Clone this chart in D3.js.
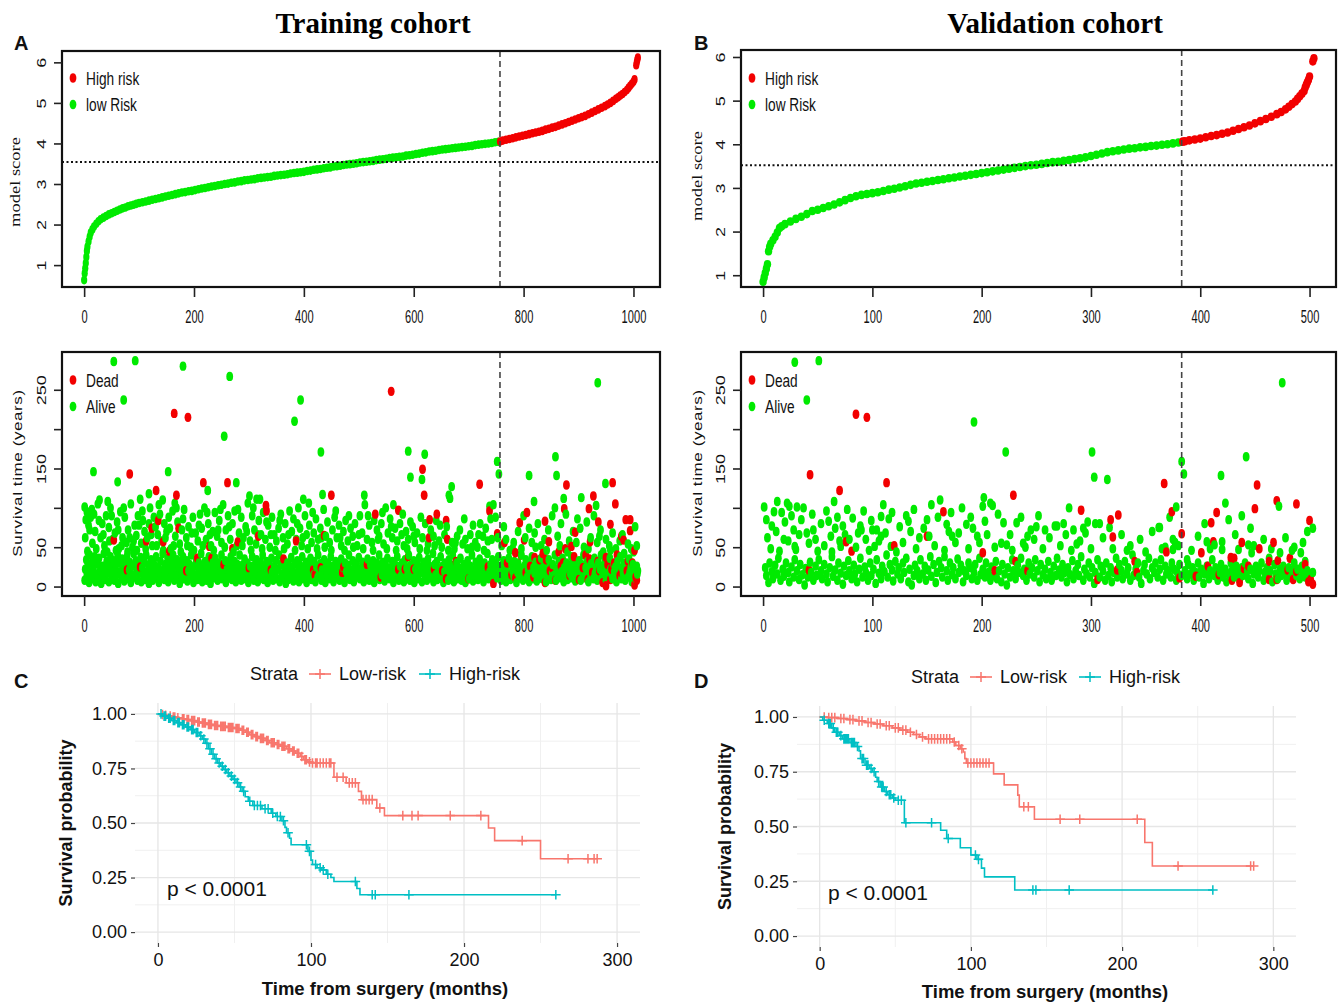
<!DOCTYPE html>
<html>
<head>
<meta charset="utf-8">
<script src="https://cdn.jsdelivr.net/npm/d3@7/dist/d3.min.js"></script>
<style>
  body { margin: 0; background: #fff; }
  svg { display: block; }
</style>
</head>
<body>
<svg id="fig" width="1343" height="1003"></svg>
<script>
// ================= data =================

// sorted model score by patient rank: [rank, score]
const scoreTrain = [[0,0.63],[1,0.8],[2,0.92],[3,1.05],[4,1.2],[5,1.35],[6,1.45],[8,1.58],[10,1.7],[12,1.8],[15,1.88],[18,1.95],[22,2.02],[26,2.08],[30,2.13],[35,2.17],[40,2.21],[45,2.25],[50,2.28],[55,2.31],[60,2.34],[65,2.37],[70,2.4],[75,2.42],[80,2.45],[85,2.47],[90,2.49],[95,2.51],[100,2.53],[106,2.55],[112,2.57],[118,2.59],[124,2.61],[130,2.63],[136,2.65],[142,2.67],[148,2.69],[154,2.71],[160,2.73],[166,2.75],[172,2.77],[178,2.79],[184,2.8],[190,2.82],[196,2.83],[202,2.85],[208,2.87],[214,2.89],[220,2.9],[226,2.92],[232,2.94],[238,2.95],[244,2.97],[250,2.98],[256,3.0],[262,3.01],[268,3.03],[274,3.04],[280,3.06],[286,3.07],[292,3.09],[298,3.1],[304,3.11],[310,3.12],[316,3.14],[322,3.15],[328,3.16],[334,3.17],[340,3.18],[346,3.2],[352,3.21],[358,3.22],[364,3.23],[370,3.24],[376,3.26],[382,3.27],[388,3.28],[394,3.29],[400,3.3],[406,3.32],[412,3.33],[418,3.35],[424,3.36],[430,3.37],[436,3.39],[442,3.4],[448,3.41],[454,3.43],[460,3.44],[466,3.45],[472,3.47],[478,3.48],[484,3.49],[490,3.5],[496,3.51],[502,3.53],[508,3.54],[514,3.55],[520,3.56],[526,3.57],[532,3.59],[538,3.6],[544,3.61],[550,3.62],[556,3.64],[562,3.65],[568,3.66],[574,3.67],[580,3.68],[586,3.7],[592,3.71],[598,3.72],[604,3.74],[610,3.75],[616,3.77],[622,3.78],[628,3.8],[634,3.81],[640,3.82],[646,3.84],[652,3.85],[658,3.86],[664,3.87],[670,3.88],[676,3.89],[682,3.9],[688,3.91],[694,3.92],[700,3.93],[706,3.94],[712,3.96],[718,3.97],[724,3.98],[730,3.99],[736,4.0],[742,4.01],[748,4.03],[754,4.04],[757,4.05],[762,4.07],[768,4.09],[774,4.11],[780,4.13],[786,4.15],[792,4.17],[798,4.19],[804,4.21],[810,4.23],[816,4.25],[822,4.27],[828,4.29],[834,4.31],[840,4.34],[846,4.36],[852,4.39],[858,4.41],[864,4.44],[870,4.47],[876,4.5],[882,4.53],[888,4.56],[894,4.59],[900,4.62],[906,4.65],[912,4.68],[918,4.72],[924,4.76],[930,4.8],[936,4.84],[942,4.88],[948,4.92],[953,4.96],[958,5.0],[963,5.05],[968,5.1],[972,5.14],[976,5.18],[980,5.22],[984,5.27],[988,5.32],[991,5.37],[994,5.42],[997,5.47],[1000,5.52],[1002,5.58],[1005,5.93],[1006,6.0],[1007,6.06],[1008,6.12]];

const scoreValid = [[0,0.85],[1,0.95],[2,1.05],[3,1.15],[4,1.25],[5,1.55],[6,1.65],[7,1.72],[9,1.8],[11,1.88],[13,1.98],[15,2.08],[17,2.12],[20,2.17],[25,2.23],[30,2.29],[35,2.34],[40,2.4],[45,2.47],[50,2.5],[55,2.54],[60,2.58],[65,2.62],[70,2.67],[75,2.72],[80,2.77],[85,2.81],[90,2.84],[95,2.86],[100,2.88],[105,2.9],[110,2.93],[115,2.96],[120,2.98],[125,3.01],[130,3.04],[135,3.07],[140,3.1],[145,3.12],[150,3.14],[155,3.16],[160,3.18],[165,3.2],[170,3.22],[175,3.24],[180,3.26],[185,3.28],[190,3.3],[195,3.32],[200,3.34],[205,3.36],[210,3.38],[215,3.4],[220,3.42],[225,3.44],[230,3.46],[235,3.48],[240,3.5],[245,3.52],[250,3.53],[255,3.55],[260,3.57],[265,3.59],[270,3.6],[275,3.62],[280,3.64],[285,3.66],[290,3.68],[295,3.7],[300,3.73],[305,3.76],[310,3.79],[315,3.82],[320,3.84],[325,3.86],[330,3.88],[335,3.9],[340,3.91],[345,3.93],[350,3.94],[355,3.96],[360,3.97],[365,3.99],[370,4.0],[375,4.02],[380,4.04],[384,4.06],[386,4.07],[390,4.09],[395,4.11],[400,4.13],[405,4.16],[410,4.19],[415,4.21],[420,4.24],[425,4.27],[430,4.31],[435,4.35],[440,4.39],[445,4.43],[450,4.48],[455,4.53],[460,4.58],[465,4.63],[470,4.69],[474,4.74],[478,4.8],[481,4.86],[484,4.92],[487,4.98],[489,5.04],[491,5.1],[493,5.16],[495,5.22],[496,5.3],[497,5.36],[498,5.42],[499,5.48],[500,5.55],[503,5.9],[504,5.97]];

const cutRankTrain = 757, cutRankValid = 383;     // high-risk from this rank on
const cutScoreTrain = 3.54, cutScoreValid = 3.52; // dotted reference line
const scoreTicks = [1, 2, 3, 4, 5, 6];
const rankTicksTrain = [0, 200, 400, 600, 800, 1000];
const rankTicksValid = [0, 100, 200, 300, 400, 500];
const timeTicks = [0, 50, 100, 150, 200, 250];
const timeLabels = [0, 50, 150, 250];

// survival time by rank: [rank, time]
const deadTrain = [[164,220],[189,215],[559,248],[616,149],[619,116],[83,143],[217,132],[261,132],[131,122],[168,116],[450,116],[720,130],[878,129],[962,132],[927,115],[967,105],[874,99],[919,99],[806,94],[793,81],[738,96],[572,97],[530,92],[331,103],[332,96],[135,84],[936,82],[958,79],[986,85],[994,85],[994,71],[978,64],[982,59],[1002,46],[921,57],[894,69],[887,51],[876,48],[846,57],[801,59],[765,56],[752,67],[785,43],[839,83],[659,84],[629,85],[628,62],[642,92],[661,60],[437,65],[386,58],[317,64],[280,57],[270,48],[228,51],[172,74],[123,74],[54,59],[113,58],[144,57],[155,45],[232,36],[363,35],[677,32],[590,38],[820,37],[829,34],[841,34],[852,24],[868,26],[920,35],[935,32],[950,37],[965,30],[990,32],[978,18],[958,9],[950,1],[1002,2],[917,9],[901,9],[839,5],[745,4],[659,10],[572,22],[584,22],[637,22],[472,25],[431,24],[417,21],[340,21],[254,28],[102,25],[78,21],[785,11],[804,18],[770,30],[778,15],[795,40],[812,26],[818,12],[835,42],[848,20],[858,8],[864,44],[872,30],[884,14],[892,38],[908,24],[913,40],[925,18],[938,20],[944,5],[953,28],[960,22],[970,40],[975,14],[988,20],[998,30],[1004,12],[1006,8],[186,20],[206,36],[300,24],[420,15],[470,18],[515,28],[540,12],[600,22],[652,20],[700,10],[735,25]];

const aliveTrainHigh = [[54,286],[93,287],[180,280],[265,267],[72,237],[255,191],[383,210],[394,237],[935,259],[431,171],[590,172],[620,168],[594,139],[615,136],[752,159],[755,143],[858,165],[860,141],[810,141],[17,146],[61,133],[153,146],[277,132],[225,122],[118,118],[434,117],[510,116],[669,127],[664,116],[905,113],[949,131],[932,103],[819,108],[738,102],[563,104],[301,115],[314,111],[320,111],[399,111],[409,106],[102,111],[1,101],[43,108],[28,110],[143,110],[165,106]];

const aliveTrainMid = [[3,85],[5,95],[8,78],[12,88],[15,55],[18,92],[20,70],[25,105],[30,62],[33,80],[37,52],[40,90],[45,75],[48,100],[52,60],[56,68],[60,82],[63,48],[66,95],[70,62],[74,88],[77,56],[80,72],[85,105],[88,50],[92,78],[95,65],[98,90],[104,55],[107,84],[110,70],[115,62],[120,100],[124,52],[127,88],[130,76],[134,66],[138,92],[141,58],[146,80],[150,70],[154,88],[158,48],[161,96],[166,64],[170,82],[174,54],[178,72],[182,98],[186,62],[190,76],[194,50],[198,88],[203,68],[207,58],[211,92],[214,74],[219,100],[222,60],[226,80],[231,52],[234,70],[238,94],[242,64],[246,84],[250,56],[253,104],[258,72],[262,90],[266,60],[270,80],[274,96],[278,52],[282,68],[286,88],[290,62],[294,76],[298,106],[302,58],[306,90],[310,72],[313,54],[318,84],[322,66],[326,94],[330,60],[335,78],[338,50],[342,88],[346,66],[350,58],[354,74],[358,92],[362,62],[366,80],[370,54],[374,96],[378,70],[381,86],[386,60],[390,100],[393,74],[396,52],[402,90],[405,66],[410,78],[414,56],[418,68],[422,86],[426,60],[430,74],[436,98],[440,64],[443,82],[447,56],[452,72],[456,88],[460,62],[464,78],[468,52],[472,70],[476,84],[480,58],[485,74],[489,64],[493,80],[497,52],[502,90],[506,68],[511,104],[515,60],[519,78],[524,56],[528,84],[533,72],[537,64],[541,80],[545,54],[549,100],[553,68],[557,86],[561,62],[566,74],[570,58],[575,80],[578,66],[582,52],[586,70],[590,60],[594,82],[598,76],[602,56],[606,68],[611,48],[616,62],[621,80],[626,54],[631,72],[636,64],[641,84],[646,58],[651,50],[656,66],[660,76],[666,112],[670,56],[674,48],[679,64],[684,72],[689,54],[694,60],[698,48],[703,66],[708,78],[712,56],[716,50],[721,80],[726,64],[731,74],[735,58],[740,86],[745,104],[749,88],[753,62],[760,52],[768,60],[775,46],[782,56],[790,70],[796,48],[803,62],[810,74],[815,56],[820,68],[826,80],[832,52],[838,60],[845,72],[852,90],[857,100],[862,64],[868,80],[873,112],[877,92],[883,58],[890,70],[896,56],[903,74],[910,50],[915,82],[922,62],[928,90],[934,56],[940,72],[945,44],[950,60],[956,52],[962,68],[968,48],[975,58],[983,42],[990,54],[996,48],[1003,76],[1006,52]];

const aliveTrainMid2 = [[2,62],[6,45],[10,72],[14,98],[22,48],[27,84],[35,66],[42,44],[46,58],[50,90],[58,46],[62,72],[68,52],[72,100],[79,44],[83,62],[90,58],[96,46],[100,78],[106,96],[112,48],[118,80],[122,66],[132,52],[136,104],[144,46],[148,62],[156,74],[163,52],[168,100],[176,44],[180,86],[188,52],[196,68],[200,46],[209,78],[216,52],[224,94],[229,66],[236,46],[244,72],[248,98],[256,50],[264,76],[272,44],[280,98],[288,52],[296,70],[304,46],[308,100],[316,66],[324,48],[332,82],[340,66],[348,46],[356,84],[364,48],[372,66],[384,46],[388,80],[398,62],[407,48],[416,94],[424,48],[432,62],[438,50],[450,46],[458,96],[466,62],[474,46],[482,90],[490,50],[500,66],[508,48],[517,90],[526,46],[535,60],[543,94],[551,48],[559,76],[568,46],[580,92],[588,48],[600,64],[613,88],[624,46],[638,52],[648,78],[663,46],[676,56],[692,86],[706,50],[718,66],[728,46],[742,60],[764,76],[780,48],[800,90],[822,50],[842,46],[866,52],[880,44],[898,86],[918,48],[938,64],[958,46],[980,66],[1000,44]];

const aliveTrainLow = [[1,8],[2,22],[4,34],[5,14],[7,28],[9,5],[10,40],[12,18],[14,30],[15,10],[17,24],[19,38],[21,6],[22,16],[24,29],[26,12],[27,36],[29,20],[31,4],[33,26],[34,14],[36,42],[38,9],[40,22],[41,32],[43,17],[45,6],[47,27],[48,38],[50,12],[52,20],[54,33],[55,8],[57,25],[59,15],[61,40],[62,4],[64,30],[66,19],[68,11],[69,35],[71,24],[73,7],[75,16],[76,29],[78,38],[80,10],[82,21],[83,31],[85,5],[87,15],[89,26],[90,42],[92,12],[94,33],[96,20],[97,8],[99,28],[101,17],[103,37],[104,6],[106,24],[108,14],[110,31],[111,9],[113,40],[115,19],[117,27],[118,4],[120,13],[122,34],[124,22],[125,8],[127,29],[129,16],[131,38],[132,11],[134,25],[136,5],[138,18],[139,32],[141,14],[143,42],[145,22],[146,9],[148,28],[150,16],[152,36],[153,6],[155,24],[157,12],[159,31],[160,20],[162,40],[164,8],[166,26],[167,15],[169,34],[171,11],[173,22],[174,4],[176,30],[178,17],[180,38],[181,10],[183,25],[185,14],[187,33],[188,7],[190,20],[192,28],[194,12],[195,40],[197,18],[199,5],[201,26],[202,14],[204,34],[206,9],[208,22],[209,30],[211,16],[213,42],[215,6],[216,24],[218,12],[220,32],[222,19],[223,8],[225,28],[227,38],[229,15],[230,4],[232,22],[234,30],[236,11],[237,18],[239,36],[241,25],[243,8],[244,14],[246,30],[248,20],[250,40],[251,10],[253,26],[255,16],[257,33],[258,5],[260,22],[262,12],[264,30],[265,18],[267,38],[269,9],[271,25],[272,15],[274,32],[276,6],[278,21],[279,28],[281,13],[283,40],[285,18],[286,8],[288,27],[290,15],[292,35],[293,10],[295,22],[297,30],[299,5],[300,17],[302,26],[304,12],[306,38],[307,20],[309,8],[311,28],[313,16],[314,34],[316,6],[318,23],[320,13],[321,31],[323,19],[325,40],[327,9],[328,26],[330,14],[332,32],[334,5],[335,21],[337,28],[339,12],[341,36],[342,18],[344,8],[346,25],[348,15],[349,33],[351,10],[353,22],[355,40],[356,6],[358,28],[360,16],[362,34],[363,12],[365,24],[367,4],[369,19],[370,30],[372,9],[374,26],[376,14],[377,37],[379,21],[381,7],[383,29],[384,16],[386,12],[388,33],[390,22],[391,6],[393,27],[395,15],[397,38],[398,10],[400,24],[402,18],[404,31],[405,5],[407,20],[409,13],[411,28],[412,36],[414,9],[416,22],[418,15],[419,32],[421,6],[423,25],[425,12],[426,40],[428,18],[430,29],[432,8],[433,21],[435,14],[437,34],[439,5],[440,24],[442,16],[444,30],[446,10],[447,20],[449,38],[451,13],[453,26],[454,6],[456,18],[458,32],[460,11],[461,23],[463,28],[465,8],[467,17],[468,35],[470,14],[472,24],[474,5],[475,30],[477,19],[479,12],[481,27],[482,40],[484,9],[486,21],[488,16],[489,33],[491,6],[493,24],[495,13],[496,29],[498,18],[500,37],[502,10],[503,22],[505,15],[507,31],[509,6],[510,20],[512,26],[514,12],[516,35],[517,17],[519,8],[521,28],[523,20],[524,14],[526,33],[528,5],[530,23],[531,12],[533,30],[535,17],[537,40],[538,9],[540,25],[542,15],[544,31],[545,20],[547,7],[549,27],[551,13],[552,36],[554,18],[556,10],[558,24],[559,16],[561,32],[563,5],[565,22],[566,28],[568,12],[570,38],[572,17],[573,8],[575,26],[577,14],[579,30],[580,21],[582,6],[584,34],[586,11],[587,24],[589,16],[591,40],[593,8],[594,27],[596,19],[598,13],[600,33],[601,5],[603,22],[605,14],[607,29],[608,10],[610,37],[612,18],[614,25],[615,6],[617,20],[619,31],[621,12],[622,24],[624,8],[626,35],[628,16],[629,26],[631,11],[633,20],[635,42],[636,6],[638,28],[640,15],[642,32],[643,9],[645,22],[647,17],[649,38],[650,12],[652,26],[654,5],[656,19],[657,30],[659,14],[661,24],[663,8],[664,34],[666,18],[668,11],[670,27],[671,40],[673,6],[675,21],[677,15],[678,30],[680,10],[682,24],[684,17],[685,36],[687,8],[689,20],[691,28],[692,13],[694,5],[696,23],[698,33],[699,16],[701,10],[703,26],[705,18],[706,40],[708,7],[710,21],[712,14],[713,31],[715,24],[717,9],[719,17],[720,35],[722,12],[724,27],[726,20],[727,6],[729,30],[731,15],[733,23],[734,42],[736,10],[738,19],[740,28],[741,14],[743,34],[745,8],[747,22],[748,16],[750,29],[752,11],[754,38],[755,24],[757,18],[759,8],[761,27],[762,14],[764,33],[766,20],[768,6],[769,25],[771,12],[773,36],[775,17],[776,9],[778,28],[780,20],[782,13],[783,32],[785,24],[787,5],[789,18],[790,30],[792,11],[794,22],[796,40],[797,15],[799,8],[801,26],[803,18],[804,34],[806,12],[808,22],[810,6],[811,29],[813,16],[815,38],[817,10],[818,24],[820,17],[822,31],[824,7],[825,21],[827,13],[829,28],[831,19],[832,36],[834,10],[836,25],[838,15],[839,30],[841,6],[843,20],[845,12],[846,34],[848,24],[850,9],[852,18],[853,28],[855,14],[857,40],[859,8],[860,22],[862,16],[864,32],[866,11],[867,26],[869,19],[871,36],[873,6],[874,24],[876,14],[878,30],[880,9],[881,20],[883,27],[885,16],[887,38],[888,11],[890,22],[892,30],[894,7],[895,18],[897,26],[899,13],[901,33],[902,21],[904,8],[906,28],[908,16],[909,40],[911,11],[913,24],[915,18],[916,32],[918,6],[920,22],[922,14],[923,29],[925,20],[927,10],[929,36],[930,17],[932,25],[934,8],[936,30],[937,14],[939,22],[941,40],[943,12],[944,26],[946,18],[948,33],[950,8],[951,20],[953,28],[955,13],[957,36],[958,22],[960,16],[962,10],[964,29],[965,19],[967,25],[969,6],[971,32],[972,14],[974,22],[976,38],[978,10],[979,24],[981,16],[983,30],[985,8],[986,20],[988,27],[990,12],[992,35],[993,18],[995,24],[997,6],[999,28],[1000,14],[1002,21],[1004,10],[1006,26],[1007,16],[1008,20]];

const deadValid = [[85,219],[95,215],[43,142],[70,122],[113,132],[229,116],[367,131],[452,129],[374,95],[291,97],[325,91],[318,85],[320,63],[383,67],[470,109],[488,105],[450,99],[415,94],[410,81],[412,57],[438,56],[467,56],[500,84],[165,95],[150,64],[76,57],[81,45],[120,52],[201,43],[401,43],[428,37],[431,36],[454,48],[482,36],[463,32],[471,33],[444,26],[440,23],[407,26],[340,32],[324,21],[342,18],[42,21],[212,20],[242,20],[231,32],[306,9],[369,44],[381,11],[396,13],[417,15],[429,8],[436,5],[463,9],[470,9],[480,21],[485,9],[488,19],[496,28],[501,9],[503,3],[499,6]];

const aliveValidHigh = [[29,285],[51,287],[40,237],[193,209],[222,171],[301,171],[303,139],[315,136],[383,159],[385,143],[475,259],[442,165],[419,141],[378,101],[472,102],[503,74]];

const aliveValidMid = [[1,101],[3,85],[8,77],[13,108],[17,94],[19,60],[22,106],[24,102],[28,72],[31,101],[35,85],[29,51],[40,68],[46,72],[48,60],[60,83],[62,64],[66,74],[65,108],[71,51],[73,77],[79,60],[82,87],[89,77],[90,72],[94,60],[100,72],[104,72],[108,89],[110,104],[115,86],[102,51],[108,64],[117,51],[133,83],[135,70],[138,98],[150,85],[152,64],[154,104],[162,110],[168,79],[172,94],[173,64],[179,68],[186,79],[192,74],[196,64],[201,102],[202,113],[203,83],[208,106],[210,103],[220,81],[218,55],[223,53],[232,81],[238,55],[242,64],[245,72],[250,76],[258,72],[267,77],[269,77],[275,80],[280,100],[284,72],[287,54],[295,68],[297,82],[304,80],[308,80],[317,75],[333,46],[362,75],[363,75],[365,48],[375,60],[377,56],[375,47],[388,34],[406,57],[413,53],[420,57],[423,106],[426,85],[420,47],[435,47],[449,52],[447,43],[444,53],[463,36],[473,43],[486,50],[492,43],[496,32]];

const aliveValidMid2 = [[4,62],[7,48],[10,95],[12,70],[15,45],[20,82],[23,58],[26,90],[30,47],[33,66],[37,100],[42,55],[45,92],[50,45],[53,80],[56,52],[58,96],[63,44],[68,88],[70,58],[75,66],[77,98],[85,50],[87,68],[92,96],[97,46],[99,84],[106,58],[112,68],[118,94],[122,44],[125,76],[128,56],[131,90],[140,48],[143,62],[147,74],[157,52],[160,88],[166,46],[170,70],[176,56],[182,100],[188,48],[190,88],[198,56],[205,66],[212,50],[215,92],[226,66],[228,46],[236,88],[240,50],[248,60],[252,90],[256,48],[262,62],[272,52],[277,66],[282,46],[290,58],[293,74],[300,48],[311,62],[320,48],[328,66],[336,52],[345,60],[350,44],[356,70],[368,50],[372,88],[380,52],[392,46],[398,64],[404,80],[409,48],[432,66],[438,90],[446,74],[458,60],[465,48],[478,62],[484,46],[494,56],[498,70]];

const aliveValidLow = [[2,24],[3,14],[5,5],[6,30],[8,19],[9,10],[11,27],[13,16],[14,36],[16,8],[18,22],[19,13],[21,30],[23,18],[24,6],[26,25],[28,12],[29,34],[31,20],[33,9],[34,28],[36,15],[38,2],[39,23],[41,12],[43,31],[44,18],[46,8],[48,26],[49,14],[51,34],[53,20],[54,10],[56,28],[58,16],[59,6],[61,24],[63,38],[64,13],[66,21],[68,8],[69,30],[71,17],[73,3],[74,26],[76,14],[78,33],[79,20],[81,10],[83,27],[84,16],[86,6],[88,22],[89,36],[91,12],[93,25],[94,18],[96,8],[98,30],[99,14],[101,22],[103,4],[104,34],[106,17],[108,10],[109,26],[111,19],[113,40],[114,12],[116,28],[118,21],[119,7],[121,32],[123,16],[124,24],[126,10],[128,30],[129,18],[131,36],[133,6],[134,22],[136,2],[138,14],[139,27],[141,20],[143,10],[144,34],[146,16],[148,26],[149,8],[151,21],[153,38],[154,13],[156,28],[158,5],[159,18],[161,32],[163,24],[164,12],[166,38],[168,20],[169,8],[171,30],[173,15],[174,24],[176,10],[178,35],[179,18],[181,27],[183,6],[184,20],[186,14],[188,30],[189,24],[191,10],[193,18],[194,28],[196,8],[198,36],[199,15],[201,22],[203,12],[204,30],[206,18],[208,8],[209,25],[211,14],[213,32],[214,10],[216,20],[218,6],[219,28],[221,16],[223,2],[224,24],[226,12],[228,34],[229,20],[231,10],[233,27],[234,18],[236,36],[238,14],[239,22],[241,8],[243,30],[244,16],[246,24],[248,12],[249,34],[251,20],[253,6],[254,28],[256,15],[258,22],[259,10],[261,32],[263,18],[264,8],[266,26],[268,14],[269,36],[271,21],[273,12],[274,28],[276,18],[278,6],[279,24],[281,15],[283,33],[284,10],[286,20],[288,28],[289,14],[291,38],[293,8],[294,22],[296,16],[298,30],[299,12],[301,24],[303,4],[304,18],[306,34],[308,12],[309,26],[311,20],[313,8],[314,30],[316,14],[318,24],[319,6],[321,18],[323,36],[324,12],[326,28],[328,20],[329,10],[331,32],[333,16],[334,24],[336,8],[338,40],[339,14],[341,22],[343,30],[344,12],[346,4],[348,20],[349,28],[351,16],[353,36],[354,10],[356,24],[358,18],[359,30],[361,12],[363,22],[364,34],[366,8],[368,26],[369,16],[371,20],[373,12],[374,30],[376,22],[378,8],[379,18],[381,28],[383,14],[386,20],[388,10],[389,28],[391,16],[393,24],[394,8],[396,18],[398,30],[399,12],[401,22],[403,4],[404,16],[406,26],[408,10],[409,20],[411,34],[413,14],[414,24],[416,8],[418,18],[419,28],[421,12],[423,22],[424,6],[426,16],[428,30],[429,20],[431,12],[433,26],[434,18],[436,8],[438,24],[439,14],[441,30],[443,20],[444,10],[446,22],[448,4],[449,16],[451,26],[453,12],[454,20],[456,30],[458,8],[459,18],[461,24],[463,12],[464,20],[466,6],[468,28],[469,16],[471,10],[473,22],[474,14],[476,26],[478,18],[479,8],[481,24],[483,12],[484,20],[486,30],[488,14],[489,22],[491,10],[493,26],[494,18],[496,12],[498,20],[499,8],[501,16],[503,18]];

// Kaplan-Meier: steps [time, survival after the drop], censor times, end of follow-up
const kmTrainLow = [[2,0.997],[4,0.994],[6,0.99],[9,0.986],[12,0.982],[15,0.978],[18,0.974],[21,0.969],[25,0.963],[28,0.958],[32,0.952],[36,0.947],[40,0.943],[45,0.938],[50,0.933],[54,0.925],[57,0.916],[60,0.905],[63,0.896],[66,0.888],[70,0.878],[73,0.868],[77,0.86],[80,0.852],[84,0.84],[87,0.83],[90,0.82],[93,0.805],[95,0.79],[98,0.78],[100,0.775],[115,0.71],[123,0.684],[131,0.645],[133,0.607],[143,0.569],[148,0.534],[216,0.477],[220,0.419],[250,0.336]];
const kmTrainLowCens = [3,5,8,10,11,13,16,17,19,20,22,23,24,26,27,29,30,31,33,34,35,37,38,39,41,42,43,44,46,47,48,49,51,52,53,55,56,58,59,61,62,64,65,67,68,69,71,72,74,75,76,78,79,81,82,83,85,86,88,89,91,92,94,96,97,99,101,103,104,106,108,110,112,113,117,121,125,127,129,134,136,138,140,145,160,166,170,191,211,238,268,281,285,287];
const kmTrainLowEnd = 287;
const kmTrainHigh = [[3,0.99],[6,0.98],[9,0.97],[12,0.96],[15,0.95],[18,0.94],[21,0.928],[24,0.915],[27,0.9],[29,0.885],[31,0.865],[33,0.84],[35,0.815],[37,0.795],[39,0.775],[41,0.76],[43,0.745],[45,0.73],[47,0.715],[49,0.7],[51,0.685],[53,0.665],[55,0.645],[57,0.62],[59,0.6],[62,0.58],[68,0.565],[74,0.545],[77,0.53],[81,0.51],[83,0.48],[84,0.455],[86,0.43],[87,0.4],[98,0.37],[100,0.33],[101,0.31],[104,0.295],[107,0.285],[110,0.265],[113,0.25],[115,0.232],[130,0.2],[132,0.171]];
const kmTrainHighCens = [2,4,5,7,8,10,11,13,14,16,17,19,20,22,23,25,26,28,30,32,34,36,38,40,42,44,46,48,50,52,54,56,60,63,65,67,70,72,75,78,80,82,85,97,99,103,106,108,111,129,140,142,164,260];
const kmTrainHighEnd = 260;

const kmValidLow = [[5,0.997],[12,0.993],[18,0.988],[24,0.982],[30,0.975],[36,0.968],[42,0.96],[48,0.95],[53,0.94],[58,0.93],[62,0.92],[66,0.909],[70,0.9],[88,0.886],[90,0.87],[93,0.855],[95,0.84],[96,0.81],[97,0.79],[115,0.74],[122,0.69],[131,0.643],[132,0.59],[142,0.533],[215,0.427],[220,0.32]];
const kmValidLowCens = [3,6,8,10,14,16,20,22,26,28,32,34,38,40,44,46,50,52,55,57,60,64,68,72,74,76,78,80,82,84,86,89,92,94,98,100,102,104,106,108,110,112,135,138,159,172,210,237,285,287];
const kmValidLowEnd = 287;
const kmValidHigh = [[2,0.985],[5,0.97],[8,0.95],[10,0.93],[13,0.915],[15,0.9],[20,0.883],[24,0.865],[26,0.845],[27,0.81],[30,0.78],[33,0.765],[35,0.75],[37,0.725],[38,0.705],[40,0.68],[43,0.66],[45,0.645],[48,0.63],[50,0.62],[56,0.517],[80,0.483],[84,0.445],[93,0.403],[100,0.37],[104,0.35],[107,0.31],[109,0.27],[129,0.21]];
const kmValidHighCens = [3,6,7,9,11,12,14,16,17,18,19,21,22,23,25,28,29,31,32,34,36,39,41,42,44,46,47,49,52,54,57,74,85,103,105,141,143,165,260];
const kmValidHighEnd = 260;

const kmTicksX = [0, 100, 200, 300];
const kmMinorX = [50, 150, 250];
const kmTicksY = [0, 0.25, 0.5, 0.75, 1];
const kmMinorY = [0.125, 0.375, 0.625, 0.875];
const strataNames = ['Low-risk', 'High-risk'];

// ================= drawing =================
const svg = d3.select('#fig');
const SANS = '"Liberation Sans", Arial, Helvetica, sans-serif';
const SERIF = '"Liberation Serif", "Times New Roman", serif';
const RED = '#f20000', GREEN = '#00ea00';
const KM_RED = '#F8766D', KM_TEAL = '#00BFC4';

// R base-graphics style box + axes; text is squeezed sideways like the source image
function rAxes(g, box, x, y, xTicks, yTicks, yLabels) {
  g.append('rect').attr('x', box.x0).attr('y', box.y0)
    .attr('width', box.x1 - box.x0).attr('height', box.y1 - box.y0)
    .attr('fill', 'none').attr('stroke', '#111').attr('stroke-width', 2.2);

  const ax = g.append('g').attr('transform', `translate(0,${box.y1})`)
    .call(d3.axisBottom(x).tickValues(xTicks).tickFormat(d3.format('d')).tickSize(10).tickSizeOuter(0));
  ax.select('.domain').remove();
  ax.selectAll('line').attr('stroke', '#222').attr('stroke-width', 1.6);
  ax.selectAll('text')
    .attr('y', 30).attr('dy', '0.35em')
    .attr('font-family', SANS).attr('font-size', 18.5).attr('fill', '#111')
    .attr('transform', 'scale(0.6,1)');

  const ay = g.append('g').attr('transform', `translate(${box.x0},0)`)
    .call(d3.axisLeft(y).tickValues(yTicks).tickSize(8).tickSizeOuter(0)
      .tickFormat(d => yLabels.includes(d) ? d : ''));
  ay.select('.domain').remove();
  ay.selectAll('line').attr('stroke', '#222').attr('stroke-width', 1.6);
  ay.selectAll('text')
    .attr('x', 0).attr('dy', '0.35em').attr('text-anchor', 'middle')
    .attr('font-family', SANS).attr('font-size', 18).attr('fill', '#111')
    .attr('transform', 'translate(-20,0) scale(0.7,1) rotate(-90)');
}

function rLegend(g, x0, y0, items) {
  items.forEach((it, i) => {
    const cy = y0 + i * 26.5;
    g.append('ellipse').attr('cx', x0).attr('cy', cy).attr('rx', 3.4).attr('ry', 4.8)
      .attr('fill', it.color);
    g.append('text').attr('transform', `translate(${x0 + 13},${cy}) scale(0.74,1)`)
      .attr('dy', '0.36em').attr('font-family', SANS).attr('font-size', 18.5)
      .attr('fill', '#111').text(it.label);
  });
}

function rYTitle(g, txt, cx, cy, family, size) {
  g.append('text').attr('transform', `translate(${cx},${cy}) scale(0.8,1) rotate(-90)`)
    .attr('text-anchor', 'middle').attr('dy', '0.35em')
    .attr('font-family', family).attr('font-size', size).attr('fill', '#111').text(txt);
}

function scorePanel(cfg) {
  const g = svg.append('g');
  const box = cfg.box;
  const x = d3.scaleLinear().domain(cfg.xDomain).range([box.x0, box.x1]);
  const y = d3.scaleLinear().domain(cfg.yDomain).range([box.y1, box.y0]);
  g.append('g').selectAll('ellipse').data(cfg.data).join('ellipse')
    .attr('cx', d => x(d[0])).attr('cy', d => y(d[1]))
    .attr('rx', cfg.rx).attr('ry', 4.3)
    .attr('fill', d => d[0] >= cfg.cutRank ? RED : GREEN);
  g.append('line').attr('x1', x(cfg.cutRank)).attr('x2', x(cfg.cutRank))
    .attr('y1', box.y0).attr('y2', box.y1)
    .attr('stroke', '#444').attr('stroke-width', 1.6).attr('stroke-dasharray', '6,4');
  g.append('line').attr('x1', box.x0).attr('x2', box.x1)
    .attr('y1', y(cfg.cutScore)).attr('y2', y(cfg.cutScore))
    .attr('stroke', '#111').attr('stroke-width', 2).attr('stroke-dasharray', '2,2.5');
  rAxes(g, box, x, y, cfg.xTicks, scoreTicks, scoreTicks);
  rLegend(g, box.x0 + 11, 78, [{label: 'High risk', color: RED}, {label: 'low Risk', color: GREEN}]);
  rYTitle(g, 'model score', cfg.yTitleX, cfg.yTitleY, SERIF, 18.5);
}

function timePanel(cfg) {
  const g = svg.append('g');
  const box = cfg.box;
  const x = d3.scaleLinear().domain(cfg.xDomain).range([box.x0, box.x1]);
  const y = d3.scaleLinear().domain([-12, 298]).range([box.y1, box.y0]);
  const pts = cfg.alive.map(d => ({r: d[0], t: d[1], dead: false}))
    .concat(cfg.dead.map(d => ({r: d[0], t: d[1], dead: true})))
    .sort((a, b) => a.r - b.r);
  g.append('g').selectAll('ellipse').data(pts).join('ellipse')
    .attr('cx', d => x(d.r)).attr('cy', d => y(d.t))
    .attr('rx', 3.4).attr('ry', 4.7)
    .attr('fill', d => d.dead ? RED : GREEN);
  g.append('line').attr('x1', x(cfg.cutRank)).attr('x2', x(cfg.cutRank))
    .attr('y1', box.y0).attr('y2', box.y1)
    .attr('stroke', '#444').attr('stroke-width', 1.6).attr('stroke-dasharray', '6,4');
  rAxes(g, box, x, y, cfg.xTicks, timeTicks, timeLabels);
  rLegend(g, box.x0 + 11, 380, [{label: 'Dead', color: RED}, {label: 'Alive', color: GREEN}]);
  g.append('text').attr('transform', `translate(${cfg.yTitleX},473) scale(0.8,1) rotate(-90)`)
    .attr('text-anchor', 'middle').attr('dy', '0.35em').attr('letter-spacing', 0.6)
    .attr('font-family', SANS).attr('font-size', 17).attr('fill', '#111')
    .text('Survival time (years)');
}

// survival probability just after time t on a step curve
function survAt(steps, t) {
  const i = d3.bisector(d => d[0]).right(steps, t);
  return i === 0 ? 1 : steps[i - 1][1];
}

function plusPath(cx, cy, h) {
  return `M${cx - h},${cy}h${2 * h}M${cx},${cy - h}v${2 * h}`;
}

function kmPanel(cfg) {
  const g = svg.append('g');
  const p = cfg.panel;
  const x = d3.scaleLinear().domain([-15, 315]).range([p.x0, p.x1]);
  const y = d3.scaleLinear().domain([-0.05, 1.05]).range([p.y1, p.y0]);

  // grid
  const grid = g.append('g');
  grid.selectAll('.mx').data(kmMinorX).join('line')
    .attr('x1', d => x(d)).attr('x2', d => x(d)).attr('y1', p.y0).attr('y2', p.y1)
    .attr('stroke', '#f0f0f0').attr('stroke-width', 1);
  grid.selectAll('.my').data(kmMinorY).join('line')
    .attr('x1', p.x0).attr('x2', p.x1).attr('y1', d => y(d)).attr('y2', d => y(d))
    .attr('stroke', '#f0f0f0').attr('stroke-width', 1);
  grid.selectAll('.gx').data(kmTicksX).join('line')
    .attr('x1', d => x(d)).attr('x2', d => x(d)).attr('y1', p.y0).attr('y2', p.y1)
    .attr('stroke', '#e6e6e6').attr('stroke-width', 1.3);
  grid.selectAll('.gy').data(kmTicksY).join('line')
    .attr('x1', p.x0).attr('x2', p.x1).attr('y1', d => y(d)).attr('y2', d => y(d))
    .attr('stroke', '#e6e6e6').attr('stroke-width', 1.3);

  // axes
  const ay = g.append('g').attr('transform', `translate(${p.x0},0)`)
    .call(d3.axisLeft(y).tickValues(kmTicksY).tickFormat(d3.format('.2f')).tickSize(4).tickPadding(4));
  const ax = g.append('g').attr('transform', `translate(0,${p.y1})`)
    .call(d3.axisBottom(x).tickValues(kmTicksX).tickSize(4).tickPadding(6));
  [ax, ay].forEach(a => {
    a.select('.domain').remove();
    a.selectAll('line').attr('stroke', '#444').attr('stroke-width', 1.2);
    a.selectAll('text').attr('font-family', SANS).attr('font-size', 18).attr('fill', '#111');
  });

  // curves
  const line = d3.line().x(d => x(d[0])).y(d => y(d[1])).curve(d3.curveStepAfter);
  cfg.strata.forEach(s => {
    const pts = [[0, 1]].concat(s.steps, [[s.end, s.steps[s.steps.length - 1][1]]]);
    g.append('path').attr('d', line(pts)).attr('fill', 'none')
      .attr('stroke', s.color).attr('stroke-width', 1.6);
    g.append('path')
      .attr('d', s.cens.map(t => plusPath(x(t), y(survAt(s.steps, t)), 4.8)).join(''))
      .attr('fill', 'none').attr('stroke', s.color).attr('stroke-width', 1.5);
  });

  g.append('text').attr('x', cfg.pX).attr('y', cfg.pY).attr('dy', '0.35em')
    .attr('font-family', SANS).attr('font-size', 21).attr('fill', '#111').text('p < 0.0001');

  g.append('text').attr('transform', `translate(${cfg.yTitleX},${(p.y0 + p.y1) / 2}) rotate(-90)`)
    .attr('text-anchor', 'middle').attr('dy', '0.35em')
    .attr('font-family', SANS).attr('font-weight', 'bold').attr('font-size', 18)
    .attr('fill', '#111').text('Survival probability');
  g.append('text').attr('x', cfg.xTitleX).attr('y', cfg.xTitleY).attr('text-anchor', 'middle')
    .attr('dy', '0.35em').attr('font-family', SANS).attr('font-weight', 'bold')
    .attr('font-size', 18.5).attr('fill', '#111').text('Time from surgery (months)');

  // legend
  const lg = cfg.legend;
  g.append('text').attr('x', lg.x).attr('y', lg.y).attr('dy', '0.35em')
    .attr('font-family', SANS).attr('font-size', 18).attr('fill', '#111').text('Strata');
  cfg.strata.forEach((s, i) => {
    const kx = lg.keys[i];
    g.append('line').attr('x1', kx - 11).attr('x2', kx + 11).attr('y1', lg.y).attr('y2', lg.y)
      .attr('stroke', s.color).attr('stroke-width', 1.6);
    g.append('path').attr('d', plusPath(kx, lg.y, 5)).attr('stroke', s.color).attr('stroke-width', 1.5);
    g.append('text').attr('x', kx + 19).attr('y', lg.y).attr('dy', '0.35em')
      .attr('font-family', SANS).attr('font-size', 18).attr('fill', '#111').text(strataNames[i]);
  });
}

// ---- titles and panel letters
svg.append('text').attr('x', 373).attr('y', 33).attr('text-anchor', 'middle')
  .attr('font-family', SERIF).attr('font-weight', 'bold').attr('font-size', 29).text('Training cohort');
svg.append('text').attr('x', 1055).attr('y', 33).attr('text-anchor', 'middle')
  .attr('font-family', SERIF).attr('font-weight', 'bold').attr('font-size', 29).text('Validation cohort');
[['A', 14, 50], ['B', 694, 50], ['C', 14, 688], ['D', 694, 688]].forEach(l => {
  svg.append('text').attr('x', l[1]).attr('y', l[2]).attr('font-family', SANS)
    .attr('font-weight', 'bold').attr('font-size', 20).attr('fill', '#111').text(l[0]);
});

// ---- A / B
scorePanel({box: {x0: 62, x1: 660, y0: 51, y1: 287}, xDomain: [-40.3, 1048.3], yDomain: [0.46, 6.28],
  data: scoreTrain, cutRank: cutRankTrain, cutScore: cutScoreTrain, xTicks: rankTicksTrain,
  yTitleX: 15, yTitleY: 182, rx: 3.1});
scorePanel({box: {x0: 741, x1: 1336, y0: 50, y1: 287}, xDomain: [-20.2, 524.2], yDomain: [0.73, 6.16],
  data: scoreValid, cutRank: cutRankValid, cutScore: cutScoreValid, xTicks: rankTicksValid,
  yTitleX: 697, yTitleY: 176, rx: 3.7});

timePanel({box: {x0: 62, x1: 660, y0: 352, y1: 596}, xDomain: [-40.3, 1048.3],
  alive: aliveTrainHigh.concat(aliveTrainMid, aliveTrainMid2, aliveTrainLow), dead: deadTrain,
  cutRank: cutRankTrain, xTicks: rankTicksTrain, yTitleX: 17});
timePanel({box: {x0: 741, x1: 1336, y0: 352, y1: 596}, xDomain: [-20.2, 524.2],
  alive: aliveValidHigh.concat(aliveValidMid, aliveValidMid2, aliveValidLow), dead: deadValid,
  cutRank: cutRankValid, xTicks: rankTicksValid, yTitleX: 697});

// ---- C / D
kmPanel({panel: {x0: 135, x1: 640, y0: 703, y1: 943},
  strata: [
    {steps: kmTrainLow, cens: kmTrainLowCens, end: kmTrainLowEnd, color: KM_RED},
    {steps: kmTrainHigh, cens: kmTrainHighCens, end: kmTrainHighEnd, color: KM_TEAL}],
  pX: 167, pY: 889, yTitleX: 66, xTitleX: 385, xTitleY: 989,
  legend: {x: 250, y: 674, keys: [320, 430]}});
kmPanel({panel: {x0: 797, x1: 1296, y0: 706, y1: 947},
  strata: [
    {steps: kmValidLow, cens: kmValidLowCens, end: kmValidLowEnd, color: KM_RED},
    {steps: kmValidHigh, cens: kmValidHighCens, end: kmValidHighEnd, color: KM_TEAL}],
  pX: 828, pY: 893, yTitleX: 725, xTitleX: 1045, xTitleY: 992,
  legend: {x: 911, y: 677, keys: [981, 1090]}});
</script>
</body>
</html>
